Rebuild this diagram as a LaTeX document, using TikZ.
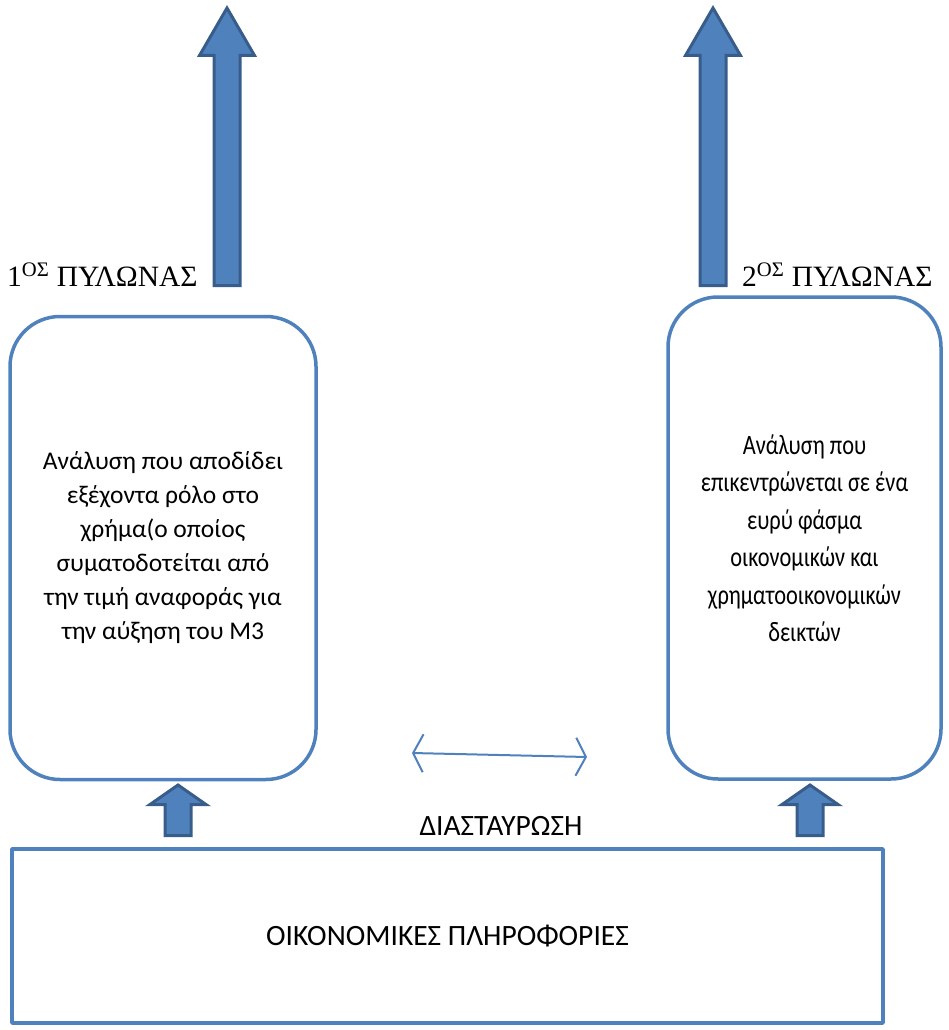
\documentclass[tikz,border=0pt]{standalone}
\usepackage{fontspec}
\setmainfont{Liberation Serif}
\newfontfamily\calfont{Carlito}
\newfontfamily\calnarrow[FakeStretch=0.8]{Carlito}
\usetikzlibrary{arrows.meta}
\definecolor{officeblue}{HTML}{4F81BD}
\definecolor{arrowedge}{HTML}{385D8A}
\begin{document}
\begin{tikzpicture}[x=1pt,y=-1pt,line join=round,
  panel/.style={draw=officeblue,line width=3.5pt,rounded corners=50pt,inner sep=0pt,align=center},
  blockarrow/.style={fill=officeblue,draw=arrowedge,line width=3pt,line join=miter},
  pillar/.style={font=\fontsize{29.5}{31}\selectfont,inner sep=0pt,anchor=base west}]
  \useasboundingbox (0,0) rectangle (948,1030);
  % the two analysis boxes and the information box
  \node[panel,minimum width=306pt,minimum height=463pt,
        font=\calfont\fontsize{25.5}{34}\selectfont] (leftpanel) at (163,548)
    {Ανάλυση που αποδίδει\\ εξέχοντα ρόλο στο\\ χρήμα(ο οποίος\\
     συματοδοτείται από\\ την τιμή αναφοράς για\\ την αύξηση του Μ3};
  \node[panel,minimum width=273pt,minimum height=482pt,
        font=\calnarrow\fontsize{28}{37.5}\selectfont] (rightpanel) at (804.5,538)
    {Ανάλυση που\\ επικεντρώνεται σε ένα\\ ευρύ φάσμα\\ οικονομικών και\\
     χρηματοοικονομικών\\ δεικτών};
  \node[panel,rounded corners=0pt,minimum width=871pt,minimum height=174pt,
        font=\calfont\fontsize{29.5}{32}\selectfont] (info) at (447.5,936)
    {ΟΙΚΟΝΟΜΙΚΕΣ ΠΛΗΡΟΦΟΡΙΕΣ};
  % pillar labels
  \node[pillar] (pillarone) at (7,286) {1\textsuperscript{ΟΣ} ΠΥΛΩΝΑΣ};
  \node[pillar] (pillartwo) at (742,286) {2\textsuperscript{ΟΣ} ΠΥΛΩΝΑΣ};
  % big arrows on top
  \foreach \c in {227,713}
    \draw[blockarrow] (\c,8) -- (\c+27.5,55.5) -- (\c+13,55.5) -- (\c+13,285.5)
      -- (\c-13,285.5) -- (\c-13,55.5) -- (\c-27.5,55.5) -- cycle;
  % small arrows from the information box
  \foreach \c in {178,810}
    \draw[blockarrow] (\c,785) -- (\c+28,804.5) -- (\c+13,804.5) -- (\c+13,835.5)
      -- (\c-13,835.5) -- (\c-13,804.5) -- (\c-28,804.5) -- cycle;
  % cross-check
  \coordinate (crossleft) at (412,753);
  \coordinate (crossright) at (587,757);
  \draw[officeblue,line width=2pt,
    {Straight Barb[length=10pt,width=38pt]}-{Straight Barb[length=10pt,width=38pt]}]
    (crossleft) -- (crossright);
  \node[font=\calfont\fontsize{29.5}{32}\selectfont,inner sep=0pt] (cross) at (501,826) {ΔΙΑΣΤΑΥΡΩΣΗ};
\end{tikzpicture}
\end{document}
